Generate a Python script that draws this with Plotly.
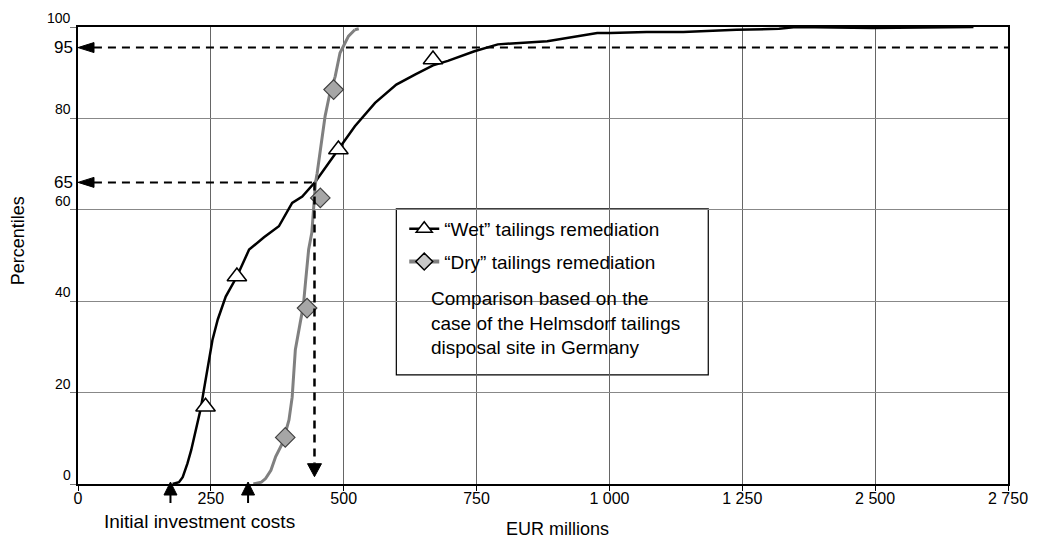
import plotly.graph_objects as go

# ---- data (x in axis units; the axis is broken after 1 250: 1500 -> "2 500", 1750 -> "2 750") ----
x_tickvals = [0, 250, 500, 750, 1000, 1250, 1500, 1750]
x_ticktext = ["0", "250", "500", "750", "1 000", "1 250", "2 500", "2 750"]
y_gridvals = [0, 20, 40, 60, 80, 100]
y_gridtext = ["0", "20", "40", "60", "80", "100"]

wet_x = [178, 190, 197, 206, 213, 222, 231, 236, 244, 253, 263, 278, 299, 322, 350, 378, 403,
         422, 447, 470, 490, 521, 559, 599, 634, 668, 696, 746, 790, 883, 977, 1002, 1070,
         1139, 1239, 1319, 1351, 1494, 1685]
wet_y = [0, 0.4, 1.5, 4.5, 7.4, 11.8, 16.5, 20, 25.7, 31.5, 36, 41, 45.4, 51.3, 54, 56.4, 61.5,
         62.9, 66.2, 70, 73.2, 78.3, 83.4, 87.4, 89.6, 91.6, 92.6, 94.7, 96.2, 96.9, 98.7, 98.7, 98.9,
         98.9, 99.4, 99.6, 100, 99.8, 100]
wet_marker_x = [240, 299, 490, 668, 1067]
wet_marker_y = [16.9, 45.4, 73.2, 92.9, 100.2]

dry_x = [330, 345, 353, 363, 372, 385, 397, 403, 406, 409, 418, 424, 428, 434, 440, 445, 447,
         450, 459, 465, 473, 484, 493, 509, 521]
dry_y = [0, 0.4, 1.2, 3, 6, 9, 14, 19, 24.2, 29.4, 35.2, 39, 44, 51.3, 55, 63, 66,
         68, 75.4, 80.5, 85, 89.2, 94.3, 98, 99.4]
dry_tail_x = [521, 534]
dry_tail_y = [99.4, 99.8]
dry_marker_x = [390, 431, 456, 481]
dry_marker_y = [10.2, 38.5, 62.6, 86.3]

pct_marks = ["95", "65"]
pct_mark_y = [95.5, 66.0]
cross_x = 445          # EUR millions at the 65th percentile crossing
invest_x = [174, 320]  # initial investment costs (arrows)

legend_names = ["\u201cWet\u201d tailings remediation", "\u201cDry\u201d tailings remediation"]
note_text = "Comparison based on the<br>case of the Helmsdorf tailings<br>disposal site in Germany"

FONT = "Liberation Sans, Arial, sans-serif"
WET_C = "#000000"
DRY_C = "#808080"

# plot area in page pixels (page is offset by 8px body margin)
PL, PT, PW, PH = 78, 27, 935, 457
OFF = 8

fig = go.Figure()

fig.add_trace(go.Scatter(x=wet_x, y=wet_y, mode="lines", line=dict(color=WET_C, width=2.5),
                         showlegend=False, hoverinfo="skip"))
fig.add_trace(go.Scatter(x=dry_x, y=dry_y, mode="lines", line=dict(color=DRY_C, width=3),
                         showlegend=False, hoverinfo="skip"))
fig.add_trace(go.Scatter(x=dry_tail_x, y=dry_tail_y, mode="lines",
                         line=dict(color=DRY_C, width=3, dash="4px,4px"),
                         showlegend=False, hoverinfo="skip", cliponaxis=False))
fig.add_trace(go.Scatter(x=wet_marker_x, y=wet_marker_y, mode="markers",
                         marker=dict(symbol="triangle-up", size=17, color="white",
                                     line=dict(color="black", width=1.5)),
                         showlegend=False, cliponaxis=False))
fig.add_trace(go.Scatter(x=dry_marker_x, y=dry_marker_y, mode="markers",
                         marker=dict(symbol="diamond", size=15, color="#a6a6a6",
                                     line=dict(color="#404040", width=1.2)),
                         showlegend=False, cliponaxis=False))
# legend entries
fig.add_trace(go.Scatter(x=[None], y=[None], mode="lines+markers", name=legend_names[0],
                         legendgroup="a",
                         line=dict(color=WET_C, width=2.5),
                         marker=dict(symbol="triangle-up", size=14, color="white",
                                     line=dict(color="black", width=1.5))))
fig.add_trace(go.Scatter(x=[None], y=[None], mode="lines+markers", name=legend_names[1],
                         legendgroup="b",
                         line=dict(color=DRY_C, width=4),
                         marker=dict(symbol="diamond", size=13, color="#c8c8c8",
                                     line=dict(color="black", width=1.5))))

shapes = []
# legend / note box (data coords so it sits above the grid)
shapes.append(dict(type="rect", xref="x", yref="y", x0=599, x1=1186, y0=23.9, y1=60.2,
                   fillcolor="white", line=dict(color="black", width=1.2), layer="below"))
# dashed percentile lines
shapes.append(dict(type="line", xref="x", yref="y", x0=30, x1=1750, y0=pct_mark_y[0], y1=pct_mark_y[0],
                   line=dict(color="black", width=2, dash="8px,6px"), layer="above"))
shapes.append(dict(type="line", xref="x", yref="y", x0=30, x1=cross_x, y0=pct_mark_y[1], y1=pct_mark_y[1],
                   line=dict(color="black", width=2, dash="8px,6px"), layer="above"))
shapes.append(dict(type="line", xref="x", yref="y", x0=cross_x, x1=cross_x, y0=pct_mark_y[1], y1=4.5,
                   line=dict(color="black", width=2.5, dash="8px,6px"), layer="above"))
# arrowheads (pixel-sized paths)
for yv in pct_mark_y:
    shapes.append(dict(type="path", xref="x", yref="y", xsizemode="pixel", ysizemode="pixel",
                       xanchor=0, yanchor=yv, path="M 0,0 L 16,5 L 16,-5 Z",
                       fillcolor="black", line=dict(color="black", width=1), layer="above"))
shapes.append(dict(type="path", xref="x", yref="y", xsizemode="pixel", ysizemode="pixel",
                   xanchor=cross_x, yanchor=1.6, path="M 0,0 L -7,13 L 7,13 Z",
                   fillcolor="black", line=dict(color="black", width=1), layer="above"))
for xv in invest_x:
    shapes.append(dict(type="line", xref="x", yref="paper", xsizemode="pixel", ysizemode="pixel",
                       xanchor=xv, yanchor=0, x0=0, x1=0, y0=-10, y1=-19,
                       line=dict(color="black", width=2)))
    shapes.append(dict(type="path", xref="x", yref="paper", xsizemode="pixel", ysizemode="pixel",
                       xanchor=xv, yanchor=0, path="M 0,2 L -6.5,-11 L 6.5,-11 Z",
                       fillcolor="black", line=dict(color="black", width=1)))


def px_x(p):
    return (p - PL) / PW


def px_y(p):
    return (PT + PH - p) / PH


annotations = []
for v, t in zip(y_gridvals, y_gridtext):
    annotations.append(dict(x=0, xref="paper", y=v, yref="y", text=t, showarrow=False,
                            xanchor="right", yanchor="middle", xshift=-5, yshift=9,
                            font=dict(family=FONT, size=14, color="black")))
for v, t in zip(pct_mark_y, pct_marks):
    annotations.append(dict(x=0, xref="paper", y=v, yref="y", text=t, showarrow=False,
                            xanchor="right", yanchor="middle", xshift=-3,
                            font=dict(family=FONT, size=17, color="black")))
annotations.append(dict(x=660, xref="x", y=35.3, yref="y", text=note_text, showarrow=False,
                        xanchor="left", yanchor="middle", align="left",
                        font=dict(family=FONT, size=19, color="black")))
annotations.append(dict(x=px_x(200), xref="paper", y=px_y(521), yref="paper",
                        text="Initial investment costs", showarrow=False,
                        xanchor="center", yanchor="middle",
                        font=dict(family=FONT, size=19, color="black")))
annotations.append(dict(x=px_x(560), xref="paper", y=px_y(529), yref="paper",
                        text="EUR millions", showarrow=False,
                        xanchor="center", yanchor="middle",
                        font=dict(family=FONT, size=18, color="black")))
annotations.append(dict(x=px_x(18), xref="paper", y=px_y(241), yref="paper",
                        text="Percentiles", showarrow=False, textangle=-90,
                        xanchor="center", yanchor="middle",
                        font=dict(family=FONT, size=18, color="black")))

W, H = 1040 - OFF, 541 - OFF
fig.update_layout(
    width=W, height=H,
    margin=dict(l=PL - OFF, r=W - (PL - OFF) - PW, t=PT - OFF, b=H - (PT - OFF) - PH),
    paper_bgcolor="white", plot_bgcolor="white",
    font=dict(family=FONT, size=16, color="black"),
    showlegend=True,
    legend=dict(x=px_x(406), y=px_y(210), xanchor="left", yanchor="top",
                bgcolor="rgba(0,0,0,0)", font=dict(family=FONT, size=19),
                tracegroupgap=5, itemwidth=30),
    shapes=shapes,
    annotations=annotations,
)
fig.update_xaxes(range=[0, 1750], tickvals=x_tickvals, ticktext=x_ticktext,
                 ticks="outside", ticklen=5, tickcolor="black", tickwidth=1,
                 ticklabelstandoff=-6,
                 showline=True, linecolor="black", linewidth=1.5, mirror=True,
                 showgrid=True, gridcolor="#666666", gridwidth=1, zeroline=False,
                 tickfont=dict(family=FONT, size=16))
fig.update_yaxes(range=[0, 100], tickvals=y_gridvals, showticklabels=False,
                 ticks="outside", ticklen=6, tickcolor="#777777",
                 showline=True, linecolor="black", linewidth=1.5, mirror=True,
                 showgrid=True, gridcolor="#888888", gridwidth=1, zeroline=False)

fig.write_html("out.html")
